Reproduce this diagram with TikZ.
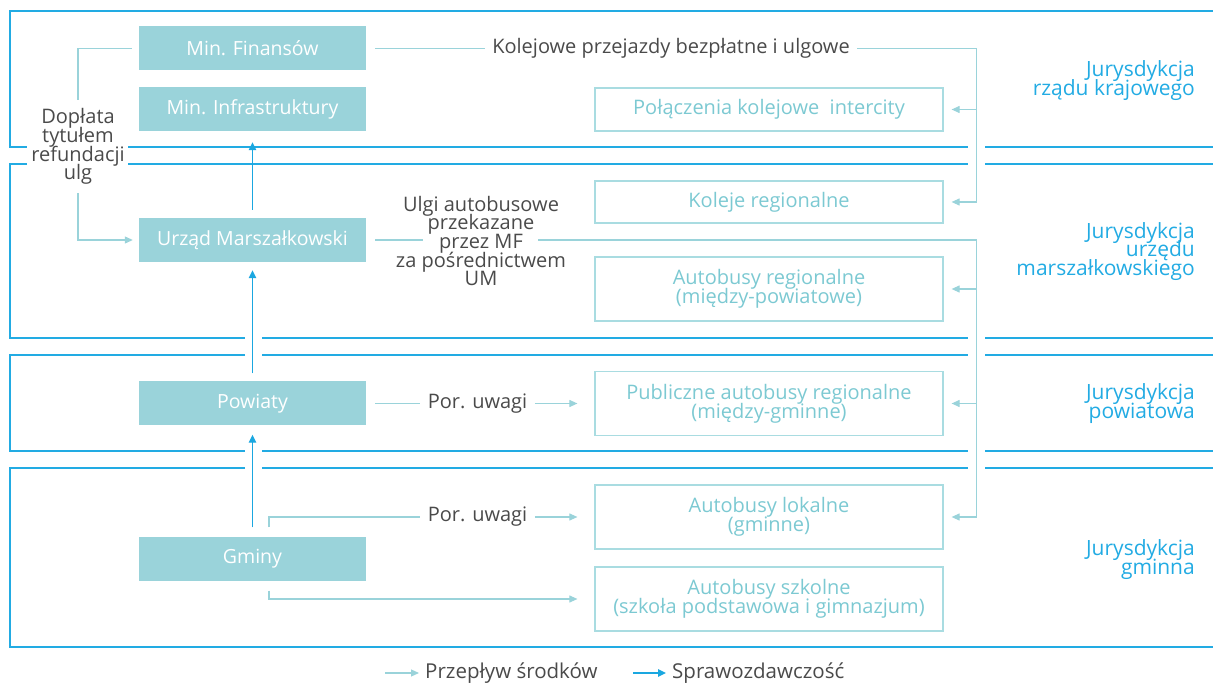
\documentclass[tikz,border=0pt]{standalone}
\usepackage{fontspec}
\setmainfont{Open Sans}
\usetikzlibrary{arrows.meta}
\newcommand\tightlines{\lineskiplimit=-20pt\relax}
\definecolor{bandc}{HTML}{22ABE3}
\definecolor{boxfill}{HTML}{9AD3DA}
\definecolor{flowc}{HTML}{9AD3DA}
\definecolor{outc}{HTML}{A9DCE1}
\definecolor{outtxt}{HTML}{7CC9D2}
\definecolor{graytxt}{HTML}{4A4A4A}
\definecolor{repc}{HTML}{1AA7E0}
\tikzset{
  band/.style={draw=bandc, line width=1.4pt},
  fbox/.style={fill=boxfill, text=white, minimum width=227pt, minimum height=44pt, inner sep=0pt, font=\fontsize{19.5}{21}\selectfont},
  obox/.style={draw=outc, line width=1.2pt, text=outtxt, minimum width=348pt, inner sep=0pt, align=center, font=\fontsize{20}{19}\selectfont\tightlines},
  lbl/.style={text=graytxt, inner xsep=7.5pt, inner ysep=2pt, align=center, font=\fontsize{20}{18.7}\selectfont\tightlines},
  jur/.style={text=bandc, align=right, anchor=east, inner sep=0pt, font=\fontsize{21}{18.8}\selectfont\tightlines},
  flow/.style={draw=flowc, line width=1.1pt},
  flowarr/.style={flow, -{Triangle[length=8pt,width=7pt]}},
  rep/.style={draw=repc, line width=1.4pt, -{Triangle[length=8pt,width=7.5pt]}},
}
\begin{document}
\begin{tikzpicture}[x=1pt,y=-1pt]
\useasboundingbox (0,0) rectangle (1213,684);
% jurisdiction bands
\draw[band] (1213,11) -- (10,11) -- (10,147) -- (27,147);
\draw[band] (128,147) -- (968,147);
\draw[band] (985,147) -- (1213,147);
\draw[band] (27,164) -- (10,164) -- (10,338) -- (245,338);
\draw[band] (128,164) -- (968,164);
\draw[band] (985,164) -- (1213,164);
\draw[band] (262,338) -- (968,338);
\draw[band] (985,338) -- (1213,338);
\draw[band] (245,355) -- (10,355) -- (10,451) -- (245,451);
\draw[band] (262,355) -- (968,355);
\draw[band] (985,355) -- (1213,355);
\draw[band] (262,451) -- (968,451);
\draw[band] (985,451) -- (1213,451);
\draw[band] (245,468) -- (10,468) -- (10,647) -- (1213,647);
\draw[band] (262,468) -- (968,468);
\draw[band] (985,468) -- (1213,468);
% left boxes
\node[fbox] (mf) at (252.5,48.5) {Min. Finansów};
\node[fbox] (mi) at (252.5,109) {Min. Infrastruktury};
\node[fbox] (um) at (252.5,240) {Urząd Marszałkowski};
\node[fbox] (pw) at (252.5,403.5) {Powiaty};
\node[fbox] (gm) at (252.5,558.5) {Gminy};
% right boxes
\node[obox, minimum height=43pt] (pk) at (769,109.5) {Połączenia kolejowe\ \ intercity};
\node[obox, minimum height=42pt] (kr) at (769,202) {Koleje regionalne};
\node[obox, minimum height=64pt] (ar) at (769,289) {Autobusy regionalne\\(między-powiatowe)};
\node[obox, minimum height=64pt] (pa) at (769,403.5) {Publiczne autobusy regionalne\\(między-gminne)};
\node[obox, minimum height=64pt] (al) at (769,517) {Autobusy lokalne\\(gminne)};
\node[obox, minimum height=64pt] (as) at (769,599) {Autobusy szkolne\\(szkoła podstawowa i gimnazjum)};
% jurisdiction labels
\node[jur] (j1) at (1195,80.5) {Jurysdykcja\\rządu krajowego};
\node[jur] (j2) at (1195,251.5) {Jurysdykcja\\urzędu\\marszałkowskiego};
\node[jur] (j3) at (1195,403.5) {Jurysdykcja\\powiatowa};
\node[jur] (j4) at (1195,559.5) {Jurysdykcja\\gminna};
% labels on connectors
\node[lbl, minimum width=101pt, minimum height=93pt] (dop) at (78,146.5) {Dopłata\\tytułem\\refundacji\\ulg};
\node[lbl] (kol) at (671,48.5) {Kolejowe przejazdy bezpłatne i ulgowe};
\node[lbl] (ulgi) at (481,241) {Ulgi autobusowe\\przekazane\\przez MF\\za pośrednictwem\\UM};
\node[lbl] (pu1) at (477.5,403.5) {Por. uwagi};
\node[lbl] (pu2) at (477.5,517) {Por. uwagi};
% flows of funds
\draw[flow] ([xshift=-7pt]mf.west) -| (dop.north);
\draw[flowarr] (dop.south) |- ([xshift=-6pt]um.west);
\draw[flow] ([xshift=9pt]mf.east) -- (kol.west);
\draw[flowarr] (kol.east) -| ([xshift=33pt]kr.east) -- ([xshift=8pt]kr.east);
\draw[flowarr] ([xshift=33pt]pk.east) -- ([xshift=8pt]pk.east);
\draw[flow] ([xshift=9pt]um.east) -- ([xshift=-58pt]ulgi.center |- um.east);
\draw[flowarr] ([xshift=57pt]ulgi.center |- um.east) -| ([xshift=33pt]al.east) -- ([xshift=8pt]al.east);
\draw[flowarr] ([xshift=33pt]ar.east) -- ([xshift=8pt]ar.east);
\draw[flowarr] ([xshift=33pt]pa.east) -- ([xshift=8pt]pa.east);
\draw[flow] ([xshift=9pt]pw.east) -- (pu1.west);
\draw[flowarr] (pu1.east) -- ([xshift=-17pt]pa.west);
\draw[flow] ([xshift=16.5pt,yshift=9pt]gm.north) |- (pu2.west);
\draw[flowarr] (pu2.east) -- ([xshift=-17pt]al.west);
\draw[flowarr] ([xshift=16.5pt,yshift=-10pt]gm.south) |- ([xshift=-17pt]as.west);
% reporting
\draw[rep] ([yshift=8pt]um.north) -- ([yshift=-11pt]mi.south);
\draw[rep] ([yshift=8pt]pw.north) -- ([yshift=-8pt]um.south);
\draw[rep] ([yshift=9pt]gm.north) -- ([yshift=-9pt]pw.south);
% legend
\node[lbl, anchor=west, inner xsep=0pt, font=\fontsize{20.5}{21}\selectfont] (lg1) at (425,673) {Przepływ środków};
\node[lbl, anchor=west, inner xsep=0pt, font=\fontsize{20.5}{21}\selectfont] (lg2) at (672,673) {Sprawozdawczość};
\draw[flowarr] ([xshift=-40pt]lg1.west) -- ([xshift=-6pt]lg1.west);
\draw[rep] ([xshift=-39pt]lg2.west) -- ([xshift=-6pt]lg2.west);
\end{tikzpicture}
\end{document}
